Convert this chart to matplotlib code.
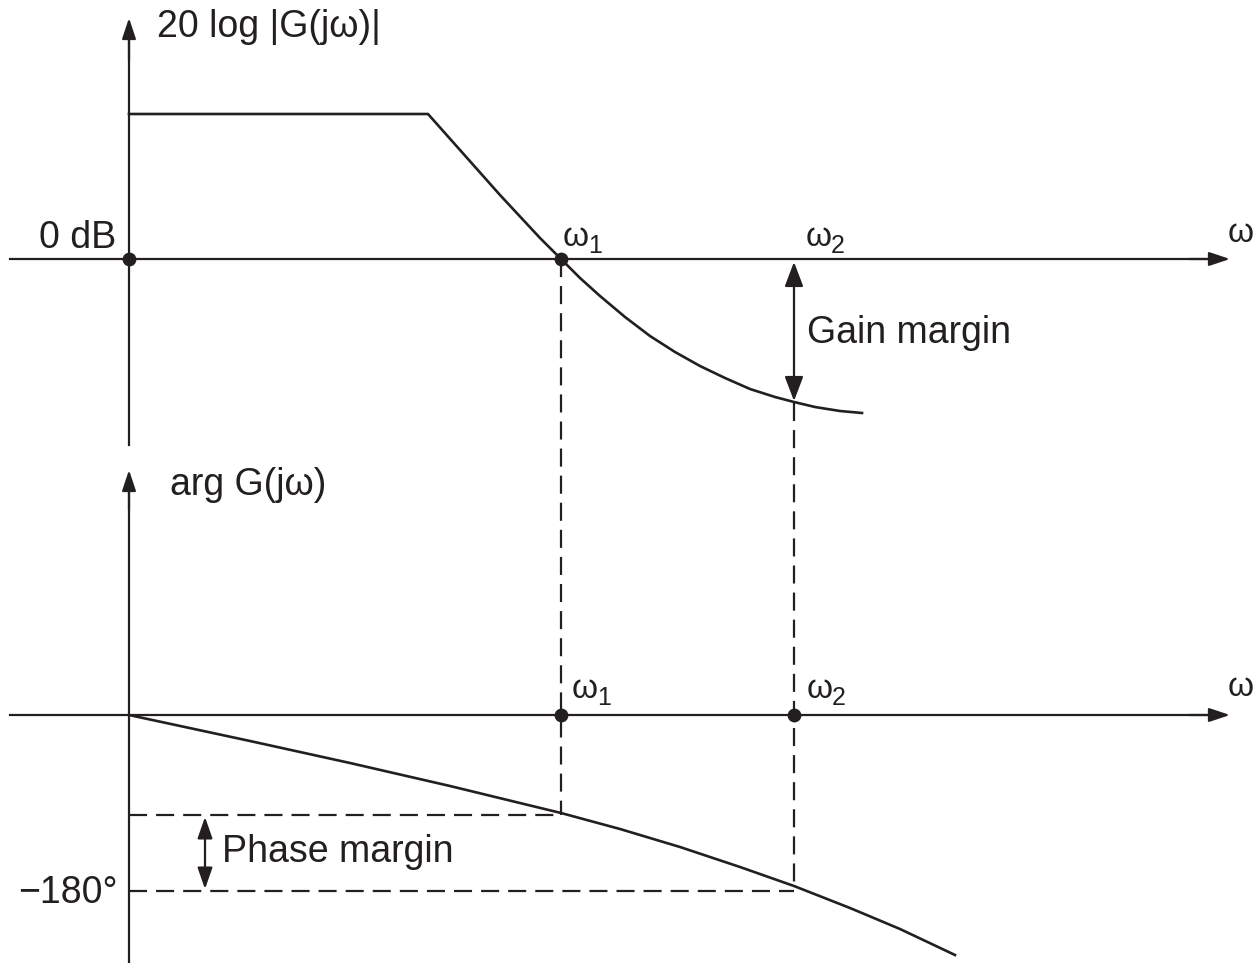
import numpy as np
import matplotlib
matplotlib.use('Agg')
import matplotlib.pyplot as plt

plt.rcParams['font.family'] = ['Liberation Sans', 'DejaVu Sans']
plt.rcParams['lines.scale_dashes'] = False

ink = '#231f20'

# diagram coordinates (pixel grid of the original sketch, y grows downward)
w_origin = 129
w1, w2 = 561, 794
gain_zero_y = 259
phase_zero_y = 715
phase_180_y = 891
phase_w1_y = 815

# magnitude curve
mag_x = [129, 428, 500, 540, 561, 580, 600, 625, 650, 675, 700, 725, 750, 775, 794, 815, 840, 862]
mag_y = [114, 114, 195, 238, 259, 278, 296, 317, 336, 352, 366, 378, 389, 397, 402, 407, 411, 413]

# phase curve
phase_x = [129, 250, 350, 450, 561, 620, 680, 740, 794, 850, 900, 955]
phase_y = [715, 741, 763, 786, 813, 829, 847, 867, 886, 908, 929, 955]

fig = plt.figure(figsize=(12.58, 9.63), dpi=100)
ax = fig.add_axes([0, 0, 1, 1])
ax.set_xlim(0, 1258)
ax.set_ylim(963, 0)
ax.axis('off')

lw = 1.6


def arrow(x0, y0, x1, y1):
    ax.annotate('', xy=(x1, y1), xytext=(x0, y0),
                arrowprops=dict(arrowstyle='-|>,head_length=0.9,head_width=0.3',
                                lw=lw, color=ink, mutation_scale=14,
                                shrinkA=0, shrinkB=0))


# axes of the gain plot
ax.plot([w_origin, w_origin], [445, 40], color=ink, lw=lw)
arrow(w_origin, 60, w_origin, 18)
ax.plot([10, 1210], [gain_zero_y, gain_zero_y], color=ink, lw=lw)
arrow(1190, gain_zero_y, 1230, gain_zero_y)

# axes of the phase plot
ax.plot([w_origin, w_origin], [963, 490], color=ink, lw=lw)
arrow(w_origin, 510, w_origin, 470)
ax.plot([10, 1210], [phase_zero_y, phase_zero_y], color=ink, lw=lw)
arrow(1190, phase_zero_y, 1230, phase_zero_y)

# curves
ax.plot(mag_x, mag_y, color=ink, lw=lw + 0.3, solid_joinstyle='round')
ax.plot(phase_x, phase_y, color=ink, lw=lw + 0.3, solid_joinstyle='round')

# dashed guides
dash = (0, (13, 6.5))
ax.plot([w1, w1], [gain_zero_y, phase_w1_y], color=ink, lw=lw, linestyle=dash)
ax.plot([w2, w2], [403, 885], color=ink, lw=lw, linestyle=dash)
ax.plot([w_origin, w1], [phase_w1_y, phase_w1_y], color=ink, lw=lw, linestyle=dash)
ax.plot([w_origin, w2], [phase_180_y, phase_180_y], color=ink, lw=lw, linestyle=dash)

# dots
ax.scatter([w_origin, w1], [gain_zero_y, gain_zero_y], s=80, color=ink, zorder=5)
ax.scatter([w1, w2], [phase_zero_y, phase_zero_y], s=80, color=ink, zorder=5)

# margin arrows
ax.annotate('', xy=(w2, 262), xytext=(w2, 401),
            arrowprops=dict(arrowstyle='<|-|>,head_length=1.0,head_width=0.38',
                            lw=lw, color=ink, mutation_scale=15, shrinkA=0, shrinkB=0))
ax.annotate('', xy=(205, 817), xytext=(205, 889),
            arrowprops=dict(arrowstyle='<|-|>,head_length=1.0,head_width=0.35',
                            lw=lw, color=ink, mutation_scale=13, shrinkA=0, shrinkB=0))

fs = 27
ax.text(157, 27, '20 log |G(jω)|', fontsize=fs, color=ink, va='center', ha='left')
ax.text(116, 238, '0 dB', fontsize=fs, color=ink, va='center', ha='right')
ax.text(807, 333, 'Gain margin', fontsize=fs, color=ink, va='center', ha='left')
ax.text(170, 485, 'arg G(jω)', fontsize=fs, color=ink, va='center', ha='left')
ax.text(222, 852, 'Phase margin', fontsize=fs, color=ink, va='center', ha='left')
ax.text(118, 893, '−180°', fontsize=fs, color=ink, va='center', ha='right')


def omega(x, y, sub=''):
    ax.text(x, y, 'ω', fontsize=fs - 3, color=ink, va='center', ha='left')
    if sub:
        ax.text(x + 25, y + 8, sub, fontsize=fs - 9, color=ink, va='center', ha='left')


omega(563, 238, '1')
omega(806, 238, '2')
omega(1228, 233)
omega(572, 690, '1')
omega(807, 690, '2')
omega(1228, 688)

fig.savefig('out.png', dpi=100)
